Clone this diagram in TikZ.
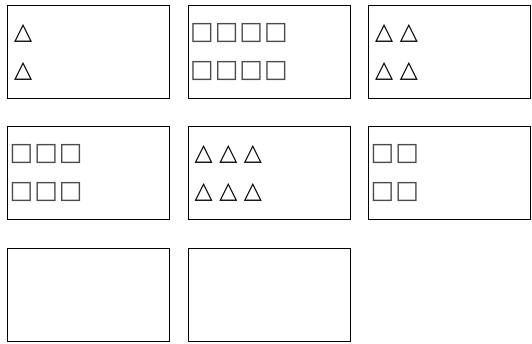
\documentclass[tikz,border=0pt]{standalone}
\usepackage{fontspec}
\newfontfamily\trifont[LetterSpace=28]{DejaVu Sans}
\newfontfamily\sqfont[LetterSpace=4]{DejaVu Sans}
\usetikzlibrary{positioning}
\tikzset{
  panel/.style={draw=black,line width=1.4pt,minimum width=162pt,minimum height=93pt,inner sep=0pt,anchor=north west},
  tri/.style={font=\trifont\fontsize{23.5}{23.5}\selectfont,inner sep=0pt,anchor=west,xshift=7pt},
  sq/.style={font=\sqfont\fontsize{25}{25}\selectfont,inner sep=0pt,anchor=west,text=black!70,xshift=2.5pt},
}
\begin{document}
\begin{tikzpicture}[x=1pt,y=-1pt]
  \useasboundingbox (0,0) rectangle (532,343);
  % --- panels
  \foreach \px/\py [count=\i] in {7/4.5,187.5/4.5,368/4.5,7/126,187.5/126,368/126,7/248,187.5/248} {
    \node[panel] (p\i) at (\px,\py) {};
  }
  % --- two rows of symbols in the first six panels
  \foreach \i/\s/\st in {1/△/tri,2/□□□□/sq,3/△△/tri,4/□□□/sq,5/△△△/tri,6/□□/sq} {
    \node[\st] (r\i a) at ([yshift=-28.5pt]p\i.north west) {\s};
    \node[\st] (r\i b) at ([yshift=-66.5pt]p\i.north west) {\s};
  }
\end{tikzpicture}
\end{document}
